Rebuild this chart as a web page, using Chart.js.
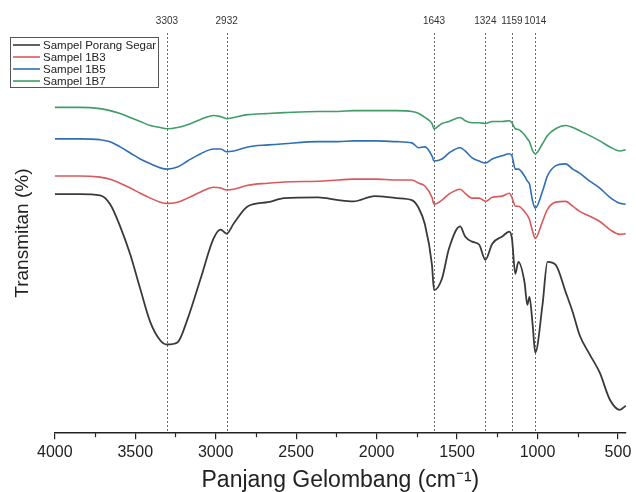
<!DOCTYPE html>
<html>
<head>
<meta charset="utf-8">
<script src="https://cdn.jsdelivr.net/npm/chart.js@4/dist/chart.umd.min.js"></script>
<style>
  html, body { margin: 0; padding: 0; background: #ffffff; }
  #wrap { position: relative; width: 636px; height: 492px; }
</style>
</head>
<body>
<div id="wrap"><canvas id="c" width="636" height="492"></canvas></div>
<script>
// Wavenumbers (cm^-1) shared by all spectra
const wavenumbers = [4000, 3844, 3719, 3656, 3594, 3531, 3469, 3406, 3344, 3303, 3238, 3175, 3094, 3013, 2969, 2932, 2888, 2800, 2675, 2575, 2363, 2238, 2144, 2013, 1875, 1781, 1738, 1700, 1656, 1643, 1594, 1550, 1481, 1450, 1406, 1363, 1324, 1281, 1219, 1175, 1159, 1138, 1119, 1081, 1063, 1050, 1030, 1014, 969, 938, 888, 825, 781, 738, 675, 613, 550, 488, 452];

// Transmittance (arbitrary, offset spectra)
const porangSegar = [59.8, 59.8, 59.5, 57.3, 51.8, 44.8, 36.3, 28.0, 23.5, 22.5, 23.0, 28.8, 38.8, 48.8, 51.0, 50.0, 52.5, 56.8, 57.8, 58.8, 59.0, 58.3, 58.0, 59.3, 58.8, 58.3, 56.3, 52.3, 42.3, 36.0, 38.8, 46.3, 51.8, 49.3, 48.0, 47.3, 43.5, 47.5, 49.3, 50.5, 48.8, 40.0, 43.0, 38.0, 32.3, 34.3, 27.3, 20.5, 32.3, 43.0, 42.3, 35.5, 30.5, 24.8, 20.0, 15.5, 8.8, 6.3, 7.3];
const sampel1B3 = [64.3, 64.3, 64.0, 63.5, 62.5, 61.3, 60.0, 58.8, 57.8, 57.5, 57.8, 58.8, 60.3, 61.5, 61.3, 60.8, 61.0, 62.0, 62.5, 62.8, 63.0, 63.3, 63.5, 63.5, 63.3, 63.3, 62.5, 61.8, 59.0, 57.3, 58.3, 59.8, 61.0, 60.0, 58.8, 58.8, 58.0, 59.0, 59.3, 60.0, 59.0, 56.8, 56.8, 55.5, 54.5, 53.5, 50.5, 48.8, 53.0, 56.0, 57.8, 58.0, 56.8, 55.5, 54.3, 53.0, 51.0, 49.8, 50.0];
const sampel1B5 = [73.5, 73.5, 73.3, 72.8, 71.5, 70.0, 68.5, 67.3, 66.3, 66.0, 66.5, 68.0, 69.8, 71.0, 71.0, 70.3, 70.5, 71.5, 72.0, 72.3, 72.8, 72.8, 73.0, 73.0, 72.8, 72.5, 71.3, 71.5, 69.3, 68.0, 68.5, 70.0, 71.3, 70.5, 68.8, 68.0, 67.5, 68.5, 69.3, 69.8, 69.3, 66.0, 66.0, 64.3, 63.0, 62.3, 58.0, 56.3, 60.5, 64.3, 66.8, 67.3, 66.0, 65.0, 63.0, 61.3, 59.0, 57.5, 57.3];
const sampel1B7 = [81.3, 81.3, 81.0, 80.5, 79.8, 78.8, 77.8, 76.8, 76.3, 76.0, 76.3, 77.0, 78.3, 79.3, 79.0, 78.5, 78.8, 79.5, 79.8, 80.0, 80.3, 80.3, 80.5, 80.5, 80.5, 80.3, 79.8, 78.8, 77.3, 76.0, 77.3, 77.8, 78.8, 78.0, 77.5, 77.5, 77.3, 77.8, 77.8, 78.0, 77.5, 76.0, 75.8, 74.5, 73.5, 72.8, 70.5, 69.8, 72.3, 74.3, 76.0, 76.8, 76.3, 75.5, 74.3, 73.0, 71.5, 70.5, 70.8];

const seriesNames = ['Sampel Porang Segar', 'Sampel 1B3', 'Sampel 1B5', 'Sampel 1B7'];
const seriesColors = ['#3a3a3a', '#d9595b', '#2f6fb3', '#3f9d66'];

// Marked absorption bands
const peakPositions = [3303, 2932, 1643, 1324, 1159, 1014];

// Axis tick labels
const majorTicks = [4000, 3500, 3000, 2500, 2000, 1500, 1000, 500];
const minorTicks = [3750, 3250, 2750, 2250, 1750, 1250, 750];

const FONT = "'Liberation Sans', Arial, Helvetica, sans-serif";

const seriesData = [porangSegar, sampel1B3, sampel1B5, sampel1B7];
const datasets = seriesData.map((vals, i) => ({
  label: seriesNames[i],
  data: wavenumbers.map((w, j) => ({ x: w, y: vals[j] })),
  borderColor: seriesColors[i],
  backgroundColor: seriesColors[i],
  borderWidth: i === 0 ? 1.8 : 1.6,
  pointRadius: 0,
  cubicInterpolationMode: 'monotone',
  fill: false
}));

const peakPlugin = {
  id: 'peaks',
  beforeDatasetsDraw(chart) {
    const { ctx, chartArea } = chart;
    const xs = chart.scales.x;
    ctx.save();
    ctx.strokeStyle = '#6a6a6a';
    ctx.lineWidth = 1;
    ctx.setLineDash([2, 2]);
    peakPositions.forEach(p => {
      const x = Math.round(xs.getPixelForValue(p)) + 0.5;
      ctx.beginPath();
      ctx.moveTo(x, chartArea.top);
      ctx.lineTo(x, chartArea.bottom);
      ctx.stroke();
    });
    ctx.setLineDash([]);
    ctx.fillStyle = '#333';
    ctx.font = '10px ' + FONT;
    ctx.textAlign = 'center';
    ctx.textBaseline = 'middle';
    peakPositions.forEach(p => {
      ctx.fillText(String(p), xs.getPixelForValue(p), chartArea.top - 12);
    });
    ctx.restore();
  },
  afterDraw(chart) {
    const { ctx, chartArea } = chart;
    const xs = chart.scales.x;
    ctx.save();
    // minor ticks
    ctx.strokeStyle = '#222';
    ctx.lineWidth = 1.2;
    minorTicks.forEach(v => {
      const x = Math.round(xs.getPixelForValue(v)) + 0.5;
      ctx.beginPath();
      ctx.moveTo(x, chartArea.bottom);
      ctx.lineTo(x, chartArea.bottom + 4);
      ctx.stroke();
    });
    // legend box
    const bx = 10, by = 37, bw = 148, bh = 50;
    ctx.strokeStyle = '#555';
    ctx.lineWidth = 1;
    ctx.strokeRect(bx + 0.5, by + 0.5, bw, bh);
    ctx.font = '11.5px ' + FONT;
    ctx.textBaseline = 'middle';
    ctx.textAlign = 'left';
    seriesNames.forEach((n, i) => {
      const y = by + 8 + i * 12;
      ctx.strokeStyle = seriesColors[i];
      ctx.lineWidth = 1.6;
      ctx.beginPath();
      ctx.moveTo(bx + 3, y);
      ctx.lineTo(bx + 30, y);
      ctx.stroke();
      ctx.fillStyle = '#222';
      ctx.fillText(n, bx + 33, y + 0.5);
    });
    ctx.restore();
  }
};

new Chart(document.getElementById('c'), {
  type: 'line',
  data: { datasets },
  plugins: [peakPlugin],
  options: {
    responsive: false,
    animation: false,
    layout: { padding: { top: 33, left: 10, right: 10, bottom: -2 } },
    plugins: { legend: { display: false }, tooltip: { enabled: false } },
    scales: {
      x: {
        type: 'linear',
        reverse: true,
        min: 450,
        max: 4000,
        afterBuildTicks: (scale) => { scale.ticks = majorTicks.map(v => ({ value: v })); },
        afterFit: (scale) => { scale.paddingLeft = 0; scale.paddingRight = 0; },
        ticks: {
          autoSkip: false,
          maxRotation: 0,
          padding: 4,
          color: '#222',
          font: { family: FONT, size: 16 },
          callback: (v) => String(v)
        },
        grid: { drawOnChartArea: false, drawTicks: true, tickLength: 6, color: '#222', lineWidth: 1.2 },
        border: { display: true, color: '#222', width: 1.5 },
        title: {
          display: true,
          text: 'Panjang Gelombang (cm⁻¹)',
          color: '#222',
          font: { family: FONT, size: 23 },
          padding: { top: 0, bottom: 0 }
        }
      },
      y: {
        min: 0.5,
        max: 99.75,
        grid: { display: false, drawTicks: false },
        border: { display: false },
        ticks: { display: false },
        title: {
          display: true,
          text: 'Transmitan (%)',
          color: '#222',
          font: { family: FONT, size: 19 },
          padding: { top: 1, bottom: 21 }
        }
      }
    }
  }
});
</script>
</body>
</html>
